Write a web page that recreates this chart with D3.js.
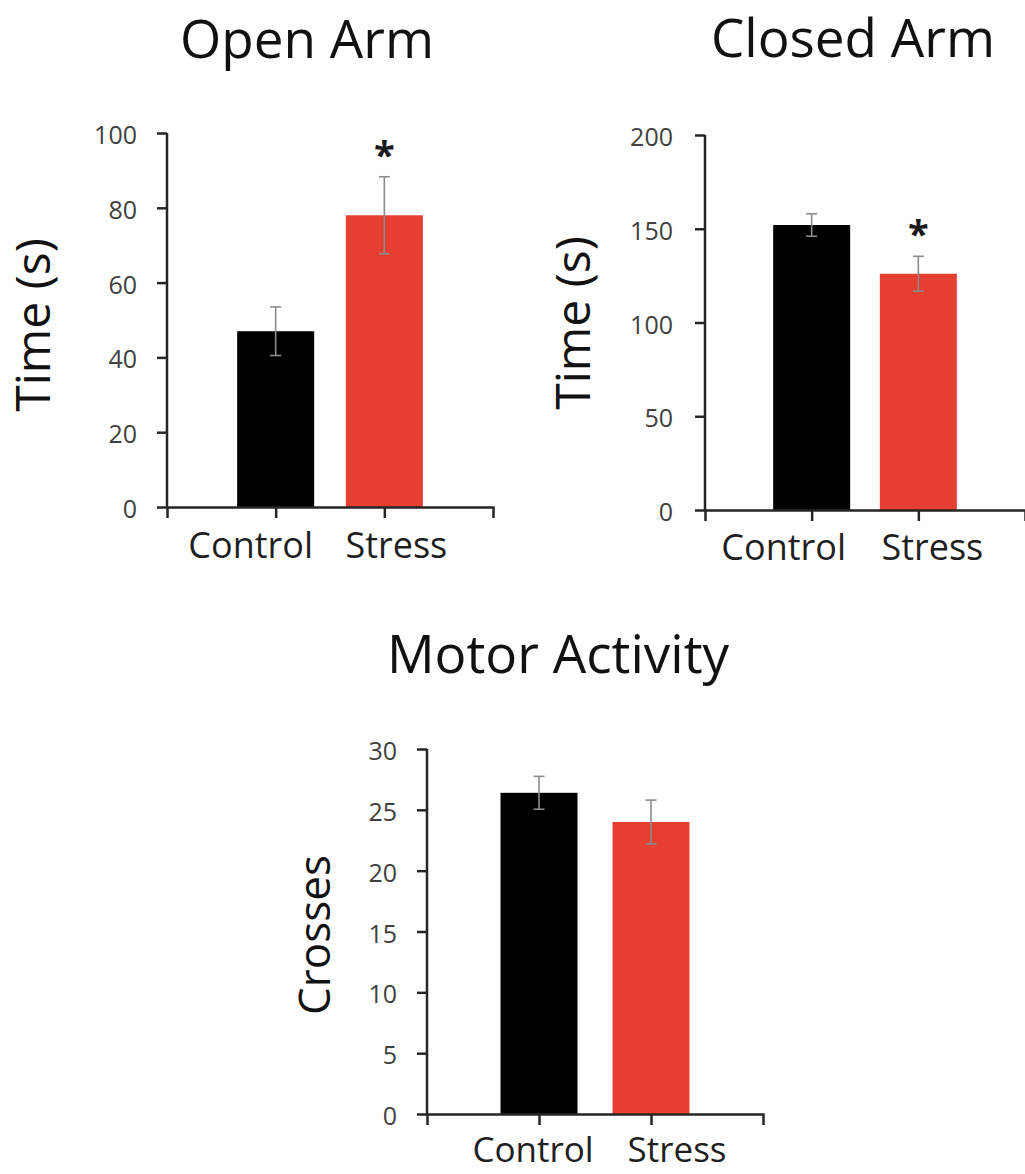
<!DOCTYPE html>
<html>
<head>
<meta charset="utf-8">
<script src="https://cdn.jsdelivr.net/npm/d3@7"></script>
<style>
  html, body { margin: 0; padding: 0; background: #ffffff; }
  svg { display: block; }
  text { font-family: "Open Sans", "Noto Sans", sans-serif; }
</style>
</head>
<body>
<svg id="fig" width="1025" height="1174"></svg>
<script>
// Groups on the x axis
const categories = ["Control", "Stress"];

// Elevated plus maze: time spent in the open arm (s)
const openArmMean = [47, 78];
const openArmSem = [6.5, 10.3];
const openArmSig = [false, true];
const openArmTicks = [0, 20, 40, 60, 80, 100];

// Elevated plus maze: time spent in the closed arm (s)
const closedArmMean = [152, 126];
const closedArmSem = [6, 9.3];
const closedArmSig = [false, true];
const closedArmTicks = [0, 50, 100, 150, 200];

// Open field: number of line crosses
const motorMean = [26.4, 24];
const motorSem = [1.35, 1.8];
const motorSig = [false, false];
const motorTicks = [0, 5, 10, 15, 20, 25, 30];

const barColors = ["#000000", "#e63e31"];

// Panel layout: axis extents in pixels and text placement
const panels = [
  {
    title: "Open Arm", yLabel: "Time (s)", yLabelSize: 48,
    mean: openArmMean, sem: openArmSem, sig: openArmSig, ticks: openArmTicks,
    x0: 167, x1: 493, yBottom: 507, yTop: 133,
    titleX: 307, titleY: 58,
    yLabelX: 50, yLabelY: 325,
    catDx: [-25, 12], catY: 558, catSize: 36,
    tickPad: 20
  },
  {
    title: "Closed Arm", yLabel: "Time (s)", yLabelSize: 48,
    mean: closedArmMean, sem: closedArmSem, sig: closedArmSig, ticks: closedArmTicks,
    x0: 705, x1: 1025, yBottom: 510, yTop: 135,
    titleX: 853, titleY: 57,
    yLabelX: 590, yLabelY: 323,
    catDx: [-28, 14], catY: 560, catSize: 36,
    tickPad: 22
  },
  {
    title: "Motor Activity", yLabel: "Crosses", yLabelSize: 44,
    mean: motorMean, sem: motorSem, sig: motorSig, ticks: motorTicks,
    x0: 427, x1: 763, yBottom: 1114, yTop: 749,
    titleX: 558, titleY: 673,
    yLabelX: 330, yLabelY: 935,
    catDx: [-6, 26], catY: 1162, catSize: 35,
    tickPad: 20
  }
];

const svg = d3.select("#fig");
const axisColor = "#262626";
const tickTextColor = "#404040";
const barWidth = 77;

panels.forEach(p => {
  const g = svg.append("g");
  const yMax = p.ticks[p.ticks.length - 1];

  // x: two groups, one step of padding on each side of the axis
  const x = d3.scalePoint()
    .domain(categories)
    .range([p.x0, p.x1])
    .padding(1);

  const y = d3.scaleLinear()
    .domain([0, yMax])
    .range([p.yBottom, p.yTop]);

  // Bars
  g.selectAll("rect.bar")
    .data(categories)
    .join("rect")
    .attr("class", "bar")
    .attr("x", d => x(d) - barWidth / 2)
    .attr("width", barWidth)
    .attr("y", (d, i) => y(p.mean[i]))
    .attr("height", (d, i) => y(0) - y(p.mean[i]))
    .attr("fill", (d, i) => barColors[i]);

  // Error bars (mean ± SEM)
  const eb = g.selectAll("g.err")
    .data(categories)
    .join("g")
    .attr("class", "err")
    .attr("stroke", "#8c8c8c")
    .attr("stroke-width", 1.6);
  eb.append("line")
    .attr("x1", d => x(d)).attr("x2", d => x(d))
    .attr("y1", (d, i) => y(p.mean[i] - p.sem[i]))
    .attr("y2", (d, i) => y(p.mean[i] + p.sem[i]));
  [-1, 1].forEach(s => {
    eb.append("line")
      .attr("x1", d => x(d) - 5.5).attr("x2", d => x(d) + 5.5)
      .attr("y1", (d, i) => y(p.mean[i] + s * p.sem[i]))
      .attr("y2", (d, i) => y(p.mean[i] + s * p.sem[i]));
  });

  // Significance marks
  g.selectAll("text.sig")
    .data(categories.filter((d, i) => p.sig[i]))
    .join("text")
    .attr("class", "sig")
    .attr("x", d => x(d))
    .attr("y", d => {
      const i = categories.indexOf(d);
      return y(p.mean[i] + p.sem[i]) - 8;
    })
    .attr("text-anchor", "middle")
    .attr("font-size", 38)
    .attr("font-weight", 700)
    .attr("fill", "#1a1a1a")
    .text("*");

  // Y axis
  const yAxis = d3.axisLeft(y)
    .tickValues(p.ticks)
    .tickSize(10)
    .tickSizeOuter(0)
    .tickPadding(p.tickPad)
    .tickFormat(d3.format("d"));
  const ya = g.append("g")
    .attr("transform", `translate(${p.x0},0)`)
    .call(yAxis);
  ya.select(".domain")
    .attr("stroke", axisColor).attr("stroke-width", 2.5)
    .attr("d", `M0,${p.yTop}V${p.yBottom}`);
  ya.selectAll(".tick line").attr("stroke", axisColor).attr("stroke-width", 2.5);
  ya.selectAll(".tick text")
    .attr("font-size", 25)
    .attr("fill", tickTextColor)
    .attr("dy", "0.42em")
    .attr("font-family", "\"DejaVu Sans\", sans-serif");

  // X axis with end ticks
  const xAxis = d3.axisBottom(x)
    .tickSize(11)
    .tickSizeOuter(11)
    .tickFormat("");
  const xa = g.append("g")
    .attr("transform", `translate(0,${p.yBottom})`)
    .call(xAxis);
  xa.select(".domain").attr("stroke", axisColor).attr("stroke-width", 2.5).attr("fill", "none");
  xa.selectAll(".tick line").attr("stroke", axisColor).attr("stroke-width", 2.5);

  // Category labels
  g.selectAll("text.cat")
    .data(categories)
    .join("text")
    .attr("class", "cat")
    .attr("x", (d, i) => x(d) + p.catDx[i])
    .attr("y", p.catY)
    .attr("text-anchor", "middle")
    .attr("font-size", p.catSize)
    .attr("fill", "#1f1f1f")
    .text(d => d);

  // Panel title
  g.append("text")
    .attr("x", p.titleX)
    .attr("y", p.titleY)
    .attr("text-anchor", "middle")
    .attr("font-size", 53)
    .attr("fill", "#111")
    .text(p.title);

  // Y axis title
  g.append("text")
    .attr("transform", `translate(${p.yLabelX},${p.yLabelY}) rotate(-90)`)
    .attr("text-anchor", "middle")
    .attr("font-size", p.yLabelSize)
    .attr("fill", "#111")
    .text(p.yLabel);
});
</script>
</body>
</html>
